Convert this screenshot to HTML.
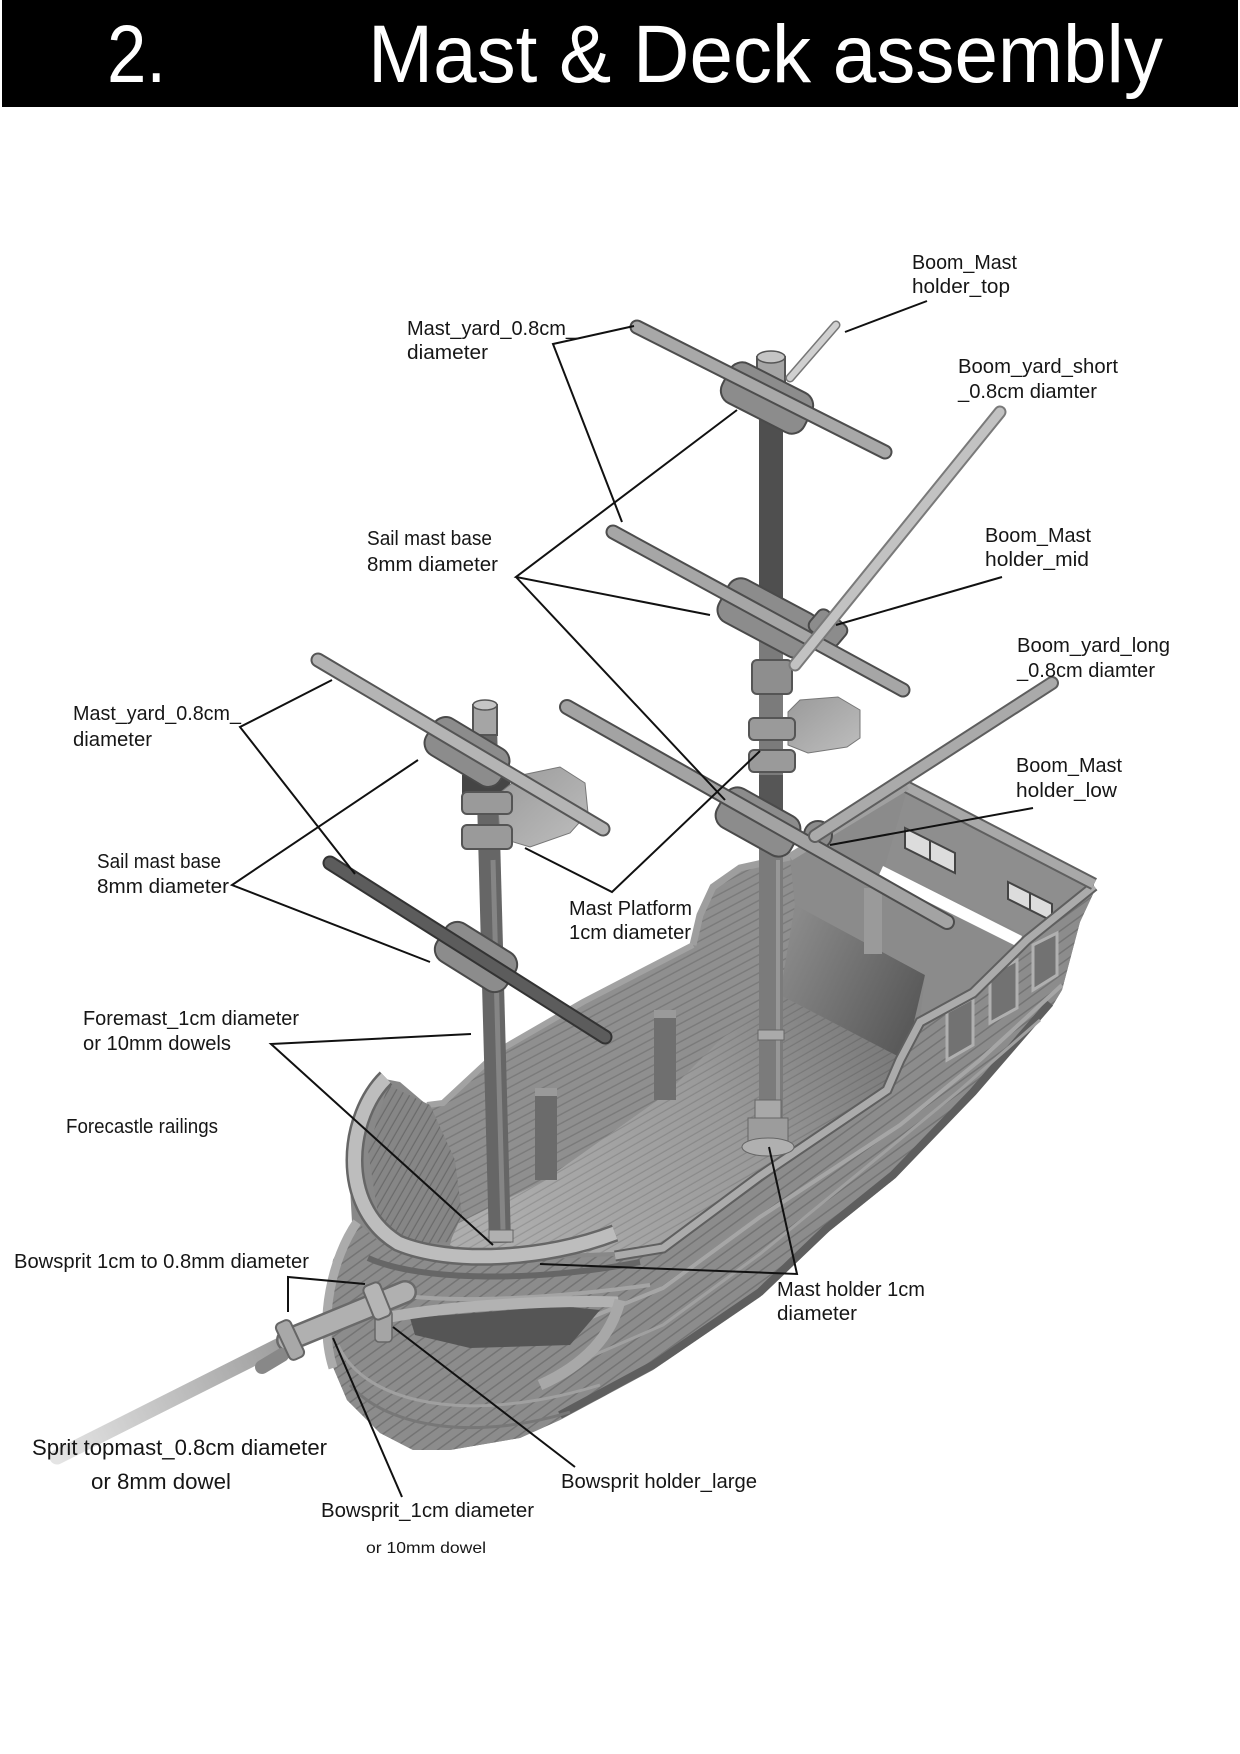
<!DOCTYPE html>
<html><head><meta charset="utf-8">
<style>
html,body{margin:0;padding:0;background:#fff;}
svg{display:block;}
text{font-family:"Liberation Sans",Arial,sans-serif;fill:#161616;}
</style></head><body>
<svg width="1240" height="1754" viewBox="0 0 1240 1754" xmlns="http://www.w3.org/2000/svg">
<defs>
<pattern id="pw" width="12" height="8" patternUnits="userSpaceOnUse" patternTransform="rotate(-28)">
 <rect width="12" height="8" fill="#8f8f8f"/><rect y="6.6" width="12" height="1.4" fill="#7a7a7a"/>
</pattern>
<pattern id="pd" width="12" height="7" patternUnits="userSpaceOnUse" patternTransform="rotate(-30)">
 <rect y="5.8" width="12" height="1.2" fill="rgba(0,0,0,0.13)"/>
</pattern>
<pattern id="ph" width="12" height="9" patternUnits="userSpaceOnUse" patternTransform="rotate(-36)">
 <rect width="12" height="9" fill="#8c8c8c"/><rect y="7.5" width="12" height="1.5" fill="#747474"/>
</pattern>
<pattern id="pf" width="12" height="7" patternUnits="userSpaceOnUse" patternTransform="rotate(-60)">
 <rect width="12" height="7" fill="#868686"/><rect y="5.8" width="12" height="1.2" fill="#6a6a6a"/>
</pattern>
<linearGradient id="gd" gradientUnits="userSpaceOnUse" x1="500" y1="1230" x2="860" y2="1010">
 <stop offset="0" stop-color="#adadad"/><stop offset="0.6" stop-color="#9a9a9a"/><stop offset="1" stop-color="#7c7c7c"/>
</linearGradient>
<linearGradient id="gs" gradientUnits="userSpaceOnUse" x1="780" y1="950" x2="925" y2="1020">
 <stop offset="0" stop-color="#8a8a8a"/><stop offset="1" stop-color="#565656"/>
</linearGradient>
<linearGradient id="gsp" gradientUnits="userSpaceOnUse" x1="290" y1="1340" x2="57" y2="1457">
 <stop offset="0" stop-color="#9c9c9c"/><stop offset="1" stop-color="#e4e4e4"/>
</linearGradient>
<linearGradient id="gpl" x1="0" y1="0" x2="1" y2="1">
 <stop offset="0" stop-color="#9a9a9a"/><stop offset="1" stop-color="#bebebe"/>
</linearGradient>
</defs>

<!-- header -->
<rect x="2" y="0" width="1236" height="107" fill="#000"/>
<text x="107" y="82" font-size="82" textLength="59" lengthAdjust="spacingAndGlyphs" style="fill:#fff">2.</text>
<text x="368" y="82" font-size="82" textLength="795" lengthAdjust="spacingAndGlyphs" style="fill:#fff">Mast &amp; Deck assembly</text>

<!-- HULL base silhouette -->
<polygon points="380,1078 400,1082 427,1105 443,1103 500,1050 583,1002 693,945 700,915 713,887 740,868 790,857 907,786 1094,884 1094,892 1080,922 1062,990 1053,1005 973,1097 893,1180 827,1233 760,1297 653,1370 560,1420 520,1438 450,1450 413,1450 380,1433 347,1400 330,1360 325,1327 333,1260 352,1222 349,1170 356,1125" fill="#888"/>

<!-- far inner wall -->
<polygon points="427,1105 443,1103 500,1050 583,1002 693,945 700,915 713,887 740,868 790,857 795,905 780,995 720,1040 665,1095 545,1180 455,1225 430,1200" fill="url(#pw)"/>

<!-- deck floor -->
<polygon points="455,1225 545,1180 665,1095 720,1040 780,995 905,1060 887,1088 760,1175 663,1247 613,1252 480,1257 450,1245" fill="url(#gd)"/>
<polygon points="455,1225 545,1180 665,1095 720,1040 780,995 905,1060 887,1088 760,1175 663,1247 613,1252 480,1257 450,1245" fill="url(#pd)"/>

<!-- sterncastle front wall -->
<polygon points="795,905 925,975 905,1060 780,995" fill="url(#gs)"/>
<!-- sterncastle top -->
<polygon points="790,857 907,786 1094,884 1027,940 973,993 920,1020 925,975 795,905" fill="#8b8b8b"/>
<polygon points="907,790 1092,888 1060,915 1045,945 885,866" fill="#8e8e8e"/>
<polygon points="883,866 1022,936 1018,947 878,877" fill="#fff"/>
<polygon points="905,828 955,853 955,873 905,848" fill="#dcdcdc" stroke="#444" stroke-width="2"/>
<line x1="930" y1="840" x2="930" y2="860" stroke="#444" stroke-width="2"/>
<polygon points="1008,882 1052,904 1052,921 1008,899" fill="#dcdcdc" stroke="#444" stroke-width="2"/>
<line x1="1030" y1="893" x2="1030" y2="910" stroke="#444" stroke-width="2"/>

<!-- deck posts -->
<rect x="535" y="1088" width="22" height="92" fill="#6b6b6b"/>
<rect x="535" y="1088" width="22" height="8" fill="#9a9a9a"/>
<rect x="654" y="1010" width="22" height="90" fill="#6f6f6f"/>
<rect x="654" y="1010" width="22" height="8" fill="#9a9a9a"/>
<rect x="864" y="888" width="18" height="66" fill="#9a9a9a"/>

<!-- exterior near hull -->
<polygon points="1094,886 1027,940 973,993 920,1022 900,1060 887,1090 760,1176 663,1248 615,1256 480,1262 413,1256 380,1242 357,1222 333,1260 325,1327 330,1360 347,1400 380,1433 413,1450 450,1450 520,1438 560,1420 653,1370 760,1297 827,1233 893,1180 973,1097 1053,1005 1062,990 1080,922 1094,892" fill="url(#ph)"/>
<polyline points="560,1415 653,1365 760,1292 827,1228 893,1175 973,1092 1050,1003" fill="none" stroke="#5e5e5e" stroke-width="8"/>
<polyline points="1062,985 980,1060 900,1125 760,1217 663,1288 560,1330" fill="none" stroke="#a6a6a6" stroke-width="4"/>
<polyline points="1040,1020 960,1090 887,1150 760,1254 663,1325 560,1370" fill="none" stroke="#a0a0a0" stroke-width="3"/>
<!-- stern panels -->
<polygon points="1033,945 1057,933 1057,975 1033,990" fill="#727272" stroke="#b0b0b0" stroke-width="3"/>
<polygon points="990,975 1017,960 1017,1008 990,1023" fill="#727272" stroke="#b0b0b0" stroke-width="3"/>
<polygon points="947,1012 973,998 973,1045 947,1060" fill="#727272" stroke="#b0b0b0" stroke-width="3"/>

<!-- rails -->
<polyline points="1094,886 1027,940 973,993 920,1022 900,1060 887,1090 760,1176 663,1248 615,1256" fill="none" stroke="#5f5f5f" stroke-width="11"/>
<polyline points="1094,886 1027,940 973,993 920,1022 900,1060 887,1090 760,1176 663,1248 615,1256" fill="none" stroke="#ababab" stroke-width="7"/>
<line x1="905" y1="786" x2="1094" y2="884" stroke="#5f5f5f" stroke-width="13"/>
<line x1="905" y1="786" x2="1094" y2="884" stroke="#a8a8a8" stroke-width="9"/>
<line x1="790" y1="857" x2="907" y2="786" stroke="#a0a0a0" stroke-width="8"/>
<polyline points="693,945 700,915 713,887 740,868 790,857" fill="none" stroke="#9e9e9e" stroke-width="7"/>
<polyline points="427,1105 443,1103 500,1050 583,1002 693,945" fill="none" stroke="#a2a2a2" stroke-width="6"/>

<!-- forecastle -->
<polygon points="388,1085 430,1105 455,1160 462,1215 450,1242 410,1244 378,1215 368,1150" fill="url(#pf)"/>
<path d="M 368 1258 C 420 1282, 540 1282, 640 1262" fill="none" stroke="#666" stroke-width="6"/>
<path d="M 372 1290 C 430 1305, 540 1300, 650 1285" fill="none" stroke="#a4a4a4" stroke-width="4"/>
<polygon points="410,1318 560,1306 600,1310 570,1345 470,1348 415,1335" fill="#555"/>
<path d="M 385 1318 C 450 1305, 560 1300, 618 1302" fill="none" stroke="#b2b2b2" stroke-width="11"/>
<path d="M 620 1300 C 612 1335, 585 1365, 540 1385" fill="none" stroke="#a8a8a8" stroke-width="11"/>
<path d="M 338 1345 C 365 1405, 470 1425, 600 1385" fill="none" stroke="#a0a0a0" stroke-width="3"/>
<path d="M 350 1385 C 390 1430, 480 1440, 570 1412" fill="none" stroke="#777" stroke-width="3"/>
<path d="M 357 1222 C 332 1258, 318 1320, 333 1368" fill="none" stroke="#ababab" stroke-width="9"/>

<!-- MAIN MAST -->
<line x1="771" y1="375" x2="771" y2="1135" stroke="#7b7b7b" stroke-width="24"/>
<rect x="759" y="420" width="24" height="185" fill="#4f4f4f"/>
<rect x="759" y="775" width="24" height="60" fill="#565656"/>
<line x1="778" y1="860" x2="778" y2="1110" stroke="#979797" stroke-width="4"/>
<rect x="758" y="1030" width="26" height="10" fill="#aaa" stroke="#666"/>
<rect x="755" y="1100" width="26" height="20" fill="#a8a8a8" stroke="#666"/>
<rect x="748" y="1118" width="40" height="28" fill="#9c9c9c" stroke="#666"/>
<ellipse cx="768" cy="1147" rx="26" ry="9" fill="#b0b0b0" stroke="#666"/>
<rect x="757" y="357" width="28" height="30" fill="#a5a5a5" stroke="#555" stroke-width="2"/>
<ellipse cx="771" cy="357" rx="14" ry="6" fill="#c5c5c5" stroke="#555" stroke-width="1.5"/>
<rect x="752" y="660" width="40" height="34" rx="5" fill="#8e8e8e" stroke="#555" stroke-width="2"/>
<polygon points="788,712 800,700 838,697 860,710 860,738 847,747 808,753 788,745" fill="url(#gpl)" stroke="#777"/>
<rect x="749" y="718" width="46" height="22" rx="5" fill="#9a9a9a" stroke="#555" stroke-width="2"/>
<rect x="749" y="750" width="46" height="22" rx="5" fill="#9a9a9a" stroke="#555" stroke-width="2"/>

<!-- FOREMAST -->
<line x1="486" y1="725" x2="500" y2="1243" stroke="#666" stroke-width="22"/>
<line x1="493" y1="860" x2="503" y2="1230" stroke="#858585" stroke-width="5"/>
<rect x="489" y="1230" width="24" height="12" fill="#b0b0b0" stroke="#666"/>
<rect x="473" y="705" width="24" height="30" fill="#a5a5a5" stroke="#555" stroke-width="2"/>
<ellipse cx="485" cy="705" rx="12" ry="5" fill="#c5c5c5" stroke="#555" stroke-width="1.5"/>
<rect x="462" y="775" width="48" height="22" fill="#454545"/>
<polygon points="497,795 522,775 560,767 585,783 588,813 570,833 530,847 500,838" fill="url(#gpl)" stroke="#777"/>
<rect x="462" y="792" width="50" height="22" rx="5" fill="#9a9a9a" stroke="#555" stroke-width="2"/>
<rect x="462" y="825" width="50" height="24" rx="5" fill="#9a9a9a" stroke="#555" stroke-width="2"/>

<!-- HOLDERS -->
<g fill="#8c8c8c" stroke="#4a4a4a" stroke-width="2">
 <rect x="-46" y="-22" width="92" height="44" rx="14" transform="translate(767,398) rotate(27)"/>
 <rect x="-50" y="-24" width="100" height="48" rx="14" transform="translate(768,618) rotate(28)"/>
 <rect x="-13" y="-18" width="26" height="36" rx="7" transform="translate(828,628) rotate(-50)"/>
 <rect x="-42" y="-22" width="84" height="44" rx="14" transform="translate(758,822) rotate(29)"/>
 <rect x="-43" y="-21" width="86" height="42" rx="14" transform="translate(467,752) rotate(31)"/>
 <rect x="-41" y="-22" width="82" height="44" rx="14" transform="translate(476,957) rotate(32)"/>
 <circle cx="818" cy="835" r="14"/>
</g>

<!-- YARDS -->
<g stroke-linecap="round">
 <line x1="637" y1="327" x2="885" y2="452" stroke="#4d4d4d" stroke-width="15"/>
 <line x1="637" y1="327" x2="885" y2="452" stroke="#a8a8a8" stroke-width="11"/>
 <line x1="613" y1="532" x2="903" y2="690" stroke="#4d4d4d" stroke-width="15"/>
 <line x1="613" y1="532" x2="903" y2="690" stroke="#a6a6a6" stroke-width="11"/>
 <line x1="567" y1="707" x2="947" y2="922" stroke="#4d4d4d" stroke-width="16"/>
 <line x1="567" y1="707" x2="947" y2="922" stroke="#a3a3a3" stroke-width="12"/>
 <line x1="318" y1="660" x2="603" y2="829" stroke="#555" stroke-width="15"/>
 <line x1="318" y1="660" x2="603" y2="829" stroke="#b4b4b4" stroke-width="11"/>
 <line x1="330" y1="863" x2="605" y2="1037" stroke="#333" stroke-width="15"/>
 <line x1="330" y1="863" x2="605" y2="1037" stroke="#5c5c5c" stroke-width="11"/>
 <line x1="836" y1="325" x2="790" y2="378" stroke="#777" stroke-width="9"/>
 <line x1="836" y1="325" x2="790" y2="378" stroke="#d0d0d0" stroke-width="6"/>
 <line x1="1000" y1="412" x2="795" y2="665" stroke="#7a7a7a" stroke-width="13"/>
 <line x1="1000" y1="412" x2="795" y2="665" stroke="#c2c2c2" stroke-width="9"/>
 <line x1="1052" y1="683" x2="815" y2="836" stroke="#5e5e5e" stroke-width="14"/>
 <line x1="1052" y1="683" x2="815" y2="836" stroke="#aaaaaa" stroke-width="10"/>
</g>

<!-- BOWSPRIT -->
<g stroke-linecap="round">
 <line x1="290" y1="1340" x2="57" y2="1457" stroke="url(#gsp)" stroke-width="15"/>
 <line x1="405" y1="1292" x2="288" y2="1340" stroke="#6a6a6a" stroke-width="24"/>
 <line x1="405" y1="1292" x2="288" y2="1340" stroke="#b0b0b0" stroke-width="19"/>
 <line x1="282" y1="1355" x2="262" y2="1367" stroke="#888" stroke-width="14"/>
</g>
<rect x="-8" y="-20" width="16" height="40" rx="5" transform="translate(290,1340) rotate(-25)" fill="#a8a8a8" stroke="#666" stroke-width="2"/>
<rect x="375" y="1310" width="17" height="32" rx="4" fill="#a5a5a5" stroke="#666" stroke-width="1.5"/>
<rect x="-9" y="-18" width="18" height="36" rx="5" transform="translate(377,1301) rotate(-22)" fill="#b5b5b5" stroke="#666" stroke-width="2"/>

<!-- forecastle rail (front) -->
<path d="M 386 1078 C 348 1115, 336 1205, 398 1243 C 450 1265, 545 1260, 615 1233" fill="none" stroke="#666" stroke-width="18"/>
<path d="M 386 1078 C 348 1115, 336 1205, 398 1243 C 450 1265, 545 1260, 615 1233" fill="none" stroke="#bdbdbd" stroke-width="13"/>

<!-- LEADER LINES -->
<g stroke="#111" stroke-width="2" fill="none">
 <line x1="927" y1="301" x2="845" y2="332"/>
 <polyline points="634,326 553,344 622,522"/>
 <polyline points="737,410 516,577 710,615"/>
 <line x1="516" y1="577" x2="725" y2="800"/>
 <line x1="1002" y1="577" x2="836" y2="625"/>
 <polyline points="760,751 612,892 525,848"/>
 <line x1="1033" y1="808" x2="830" y2="845"/>
 <polyline points="332,680 240,727 355,874"/>
 <polyline points="418,760 232,885 430,962"/>
 <polyline points="471,1034 271,1044 493,1245"/>
 <polyline points="288,1312 288,1277 365,1284"/>
 <line x1="402" y1="1497" x2="333" y2="1338"/>
 <line x1="393" y1="1327" x2="575" y2="1467"/>
 <polyline points="769,1147 797,1274 540,1264"/>
</g>

<!-- LABELS -->
<g font-size="20">
 <text x="912" y="269" textLength="105" lengthAdjust="spacingAndGlyphs">Boom_Mast</text>
 <text x="912" y="293" textLength="98" lengthAdjust="spacingAndGlyphs">holder_top</text>
 <text x="407" y="335" textLength="170" lengthAdjust="spacingAndGlyphs">Mast_yard_0.8cm_</text>
 <text x="407" y="359" textLength="81" lengthAdjust="spacingAndGlyphs">diameter</text>
 <text x="958" y="373" textLength="160" lengthAdjust="spacingAndGlyphs">Boom_yard_short</text>
 <text x="958" y="398" textLength="139" lengthAdjust="spacingAndGlyphs">_0.8cm diamter</text>
 <text x="367" y="545" textLength="125" lengthAdjust="spacingAndGlyphs">Sail mast base</text>
 <text x="367" y="571" textLength="131" lengthAdjust="spacingAndGlyphs">8mm diameter</text>
 <text x="985" y="542" textLength="106" lengthAdjust="spacingAndGlyphs">Boom_Mast</text>
 <text x="985" y="566" textLength="104" lengthAdjust="spacingAndGlyphs">holder_mid</text>
 <text x="1017" y="652" textLength="153" lengthAdjust="spacingAndGlyphs">Boom_yard_long</text>
 <text x="1017" y="677" textLength="138" lengthAdjust="spacingAndGlyphs">_0.8cm diamter</text>
 <text x="1016" y="772" textLength="106" lengthAdjust="spacingAndGlyphs">Boom_Mast</text>
 <text x="1016" y="797" textLength="101" lengthAdjust="spacingAndGlyphs">holder_low</text>
 <text x="73" y="720" textLength="168" lengthAdjust="spacingAndGlyphs">Mast_yard_0.8cm_</text>
 <text x="73" y="746" textLength="79" lengthAdjust="spacingAndGlyphs">diameter</text>
 <text x="97" y="868" textLength="124" lengthAdjust="spacingAndGlyphs">Sail mast base</text>
 <text x="97" y="893" textLength="132" lengthAdjust="spacingAndGlyphs">8mm diameter</text>
 <text x="569" y="915" textLength="123" lengthAdjust="spacingAndGlyphs">Mast Platform</text>
 <text x="569" y="939" textLength="122" lengthAdjust="spacingAndGlyphs">1cm diameter</text>
 <text x="83" y="1025" textLength="216" lengthAdjust="spacingAndGlyphs">Foremast_1cm diameter</text>
 <text x="83" y="1050" textLength="148" lengthAdjust="spacingAndGlyphs">or 10mm dowels</text>
 <text x="66" y="1133" textLength="152" lengthAdjust="spacingAndGlyphs">Forecastle railings</text>
 <text x="14" y="1268" textLength="295" lengthAdjust="spacingAndGlyphs">Bowsprit 1cm to 0.8mm diameter</text>
 <text x="777" y="1296" textLength="148" lengthAdjust="spacingAndGlyphs">Mast holder 1cm</text>
 <text x="777" y="1320" textLength="80" lengthAdjust="spacingAndGlyphs">diameter</text>
 <text x="561" y="1488" textLength="196" lengthAdjust="spacingAndGlyphs">Bowsprit holder_large</text>
 <text x="321" y="1517" textLength="213" lengthAdjust="spacingAndGlyphs">Bowsprit_1cm diameter</text>
</g>
<text x="32" y="1455" font-size="22" textLength="295" lengthAdjust="spacingAndGlyphs">Sprit topmast_0.8cm diameter</text>
<text x="91" y="1489" font-size="22" textLength="140" lengthAdjust="spacingAndGlyphs">or 8mm dowel</text>
<text x="366" y="1553" font-size="16" textLength="120" lengthAdjust="spacingAndGlyphs">or 10mm dowel</text>
</svg>
</body></html>
